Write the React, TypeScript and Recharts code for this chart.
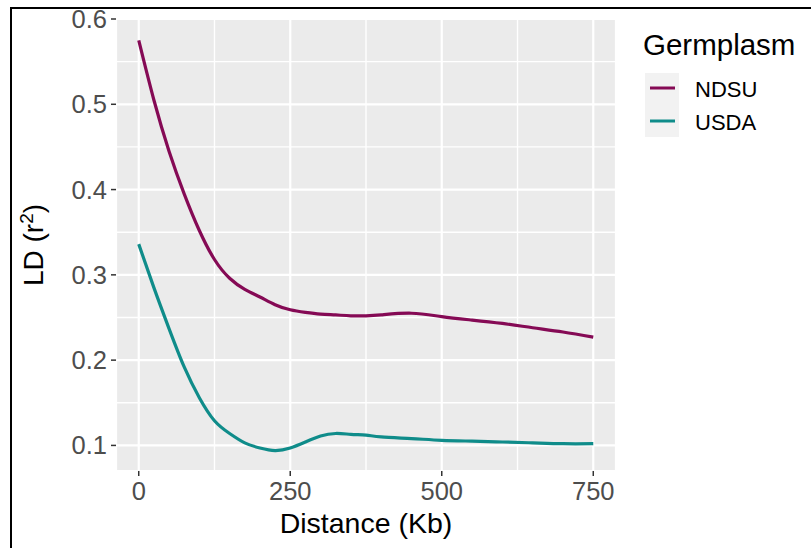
import { LineChart, Line, XAxis, YAxis, CartesianGrid, ReferenceLine, Legend, Label } from 'recharts';

// (Distance in Kb, LD as r^2)
const distance = [0, 25, 50, 75, 100, 125, 150, 175, 200, 225, 250, 275, 300, 325, 350, 375, 400, 450, 500, 550, 600, 650, 700, 750];
const ndsu = [0.575, 0.505, 0.445, 0.395, 0.352, 0.318, 0.296, 0.283, 0.274, 0.265, 0.259, 0.256, 0.254, 0.253, 0.252, 0.252, 0.253, 0.255, 0.251, 0.247, 0.243, 0.238, 0.233, 0.227];
const usda = [0.336, 0.285, 0.237, 0.192, 0.156, 0.129, 0.114, 0.103, 0.097, 0.094, 0.097, 0.104, 0.111, 0.114, 0.113, 0.112, 0.110, 0.108, 0.106, 0.105, 0.104, 0.103, 0.102, 0.102];

const xTicks = [0, 250, 500, 750];
const xMinor = [125, 375, 625];
const yTicks = [0.1, 0.2, 0.3, 0.4, 0.5, 0.6];
const yMinor = [0.15, 0.25, 0.35, 0.45, 0.55];

const FONT = '"Liberation Sans", Arial, Helvetica, sans-serif';
const NDSU_COLOR = '#850A55';
const USDA_COLOR = '#0F8C8A';

const data = distance.map((d, i) => ({ distance: d, NDSU: ndsu[i], USDA: usda[i] }));

function GermplasmLegend({ payload }: any) {
  const items = payload ?? [];
  return (
    <svg width={171} height={150} style={{ display: 'block' }}>
      <text x={3} y={55} fontSize={29.5} fontFamily={FONT} fill="#000">Germplasm</text>
      <rect x={5} y={73} width={34} height={64} fill="#F2F2F2" />
      {items.map((it: any, i: number) => (
        <g key={it.value}>
          <line x1={10} x2={35} y1={88 + i * 33} y2={88 + i * 33} stroke={it.color} strokeWidth={3} />
          <text x={55} y={97 + i * 33} fontSize={22} fontFamily={FONT} fill="#000">{it.value}</text>
        </g>
      ))}
    </svg>
  );
}

function YTitle({ viewBox }: any) {
  const cx = viewBox.x + 43;
  const cy = viewBox.y + viewBox.height / 2;
  return (
    <text x={cx} y={cy} transform={`rotate(-90, ${cx}, ${cy})`} textAnchor="middle" fontSize={28} fontFamily={FONT} fill="#000">
      LD (r<tspan dy={-10} fontSize={19}>2</tspan><tspan dy={10}>)</tspan>
    </text>
  );
}

function XTitle({ viewBox }: any) {
  const cx = viewBox.x + viewBox.width / 2;
  return (
    <text x={cx} y={533} textAnchor="middle" fontSize={28.5} fontFamily={FONT} fill="#000">Distance (Kb)</text>
  );
}

export default function App() {
  return (
    <div style={{ position: 'absolute', left: 0, top: 0, width: 811, height: 548, background: '#fff' }}>
      <div style={{ position: 'absolute', left: 10, top: 7, width: 801, height: 541, borderLeft: '2px solid #000', borderTop: '2px solid #000', boxSizing: 'border-box' }} />
      <LineChart width={811} height={548} data={data} margin={{ top: 19, right: 195, left: 0, bottom: 0 }}>
        <CartesianGrid fill="#EBEBEB" stroke="#FFFFFF" strokeWidth={2.2} />
        {xMinor.map((v) => (
          <ReferenceLine key={`vx${v}`} x={v} stroke="#FFFFFF" strokeWidth={1.4} />
        ))}
        {yMinor.map((v) => (
          <ReferenceLine key={`hy${v}`} y={v} stroke="#FFFFFF" strokeWidth={1.4} />
        ))}
        <XAxis
          dataKey="distance"
          type="number"
          domain={[-37.5, 787.5]}
          ticks={xTicks}
          allowDataOverflow
          height={77}
          axisLine={false}
          tickSize={5}
          tickMargin={6}
          tickLine={{ stroke: '#333333', strokeWidth: 1.5 }}
          tick={{ fill: '#4D4D4D', fontSize: 25.5, fontFamily: FONT }}
        >
          <Label content={<XTitle />} />
        </XAxis>
        <YAxis
          type="number"
          domain={[0.07, 0.6]}
          ticks={yTicks}
          allowDataOverflow
          width={116}
          axisLine={false}
          tickSize={5}
          tickMargin={4}
          tickLine={{ stroke: '#333333', strokeWidth: 1.5 }}
          tick={{ fill: '#4D4D4D', fontSize: 25.5, fontFamily: FONT }}
        >
          <Label content={<YTitle />} />
        </YAxis>
        <Legend
          layout="vertical"
          align="center"
          verticalAlign="middle"
          content={<GermplasmLegend />}
          wrapperStyle={{ left: 640, top: 0, width: 171, height: 150 }}
        />
        <Line type="natural" dataKey="NDSU" name="NDSU" stroke={NDSU_COLOR} strokeWidth={3.2} dot={false} isAnimationActive={false} />
        <Line type="natural" dataKey="USDA" name="USDA" stroke={USDA_COLOR} strokeWidth={3.2} dot={false} isAnimationActive={false} />
      </LineChart>
    </div>
  );
}
